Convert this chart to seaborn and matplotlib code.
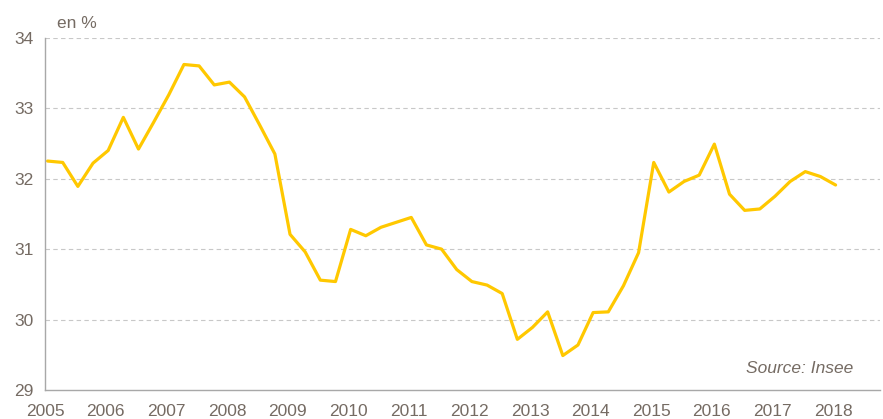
import numpy as np
import pandas as pd
import seaborn as sns
import matplotlib.pyplot as plt

# quarterly series, 2005 Q1 -> 2018 Q1
years = list(range(2005, 2019))
values = [32.25, 32.23, 31.89, 32.22, 32.40, 32.87, 32.42, 32.80,
          33.19, 33.62, 33.60, 33.33, 33.37, 33.16, 32.76, 32.35,
          31.21, 30.96, 30.56, 30.54, 31.28, 31.19, 31.31, 31.38,
          31.45, 31.06, 31.00, 30.71, 30.54, 30.49, 30.37, 29.72,
          29.89, 30.11, 29.49, 29.64, 30.10, 30.11, 30.48, 30.95,
          32.23, 31.81, 31.96, 32.05, 32.49, 31.78, 31.55, 31.57,
          31.75, 31.96, 32.10, 32.03, 31.91]
# dates = 15th of first month of each quarter
periods = [y + q / 4 + 1 / 24 for y in years for q in range(4)][:len(values)]
yticks = [29, 30, 31, 32, 33, 34]

df = pd.DataFrame({'periode': periods, 'taux': values})

sns.set_style('white')
plt.rcParams['font.family'] = ['Liberation Sans', 'DejaVu Sans']
txt = '#756b63'

fig = plt.figure(figsize=(8.83, 4.19), dpi=100)
ax = fig.add_axes([0.051, 0.069, 0.946, 0.841])

sns.lineplot(data=df, x='periode', y='taux', ax=ax, color='#ffc800',
             linewidth=2.3, clip_on=False)

ax.set_xlim(2005, 2018.78)
ax.set_ylim(29, 34)
ax.set_xticks(years)
ax.set_xticklabels([str(y) for y in years])
ax.set_yticks(yticks)
for v in yticks[1:]:
    ax.axhline(v, color='#c8c8c8', lw=0.8, ls=(0, (4, 3)), zorder=0)

ax.set_xlabel('')
ax.set_ylabel('')
ax.tick_params(axis='both', colors='#a0a0a0', labelcolor=txt, labelsize=12.5,
               length=5, width=1, direction='out')
ax.tick_params(axis='x', pad=5)
ax.tick_params(axis='y', pad=3)
for s in ['top', 'right']:
    ax.spines[s].set_visible(False)
for s in ['left', 'bottom']:
    ax.spines[s].set_color('#a8a8a8')
    ax.spines[s].set_linewidth(1)

fig.text(0.064, 0.945, 'en %', color=txt, fontsize=12.5, va='center')
ax.text(0.967, 0.06, 'Source: Insee', transform=ax.transAxes, color=txt,
        fontsize=12.5, style='italic', ha='right', va='center')

plt.savefig('out.png', dpi=100)
